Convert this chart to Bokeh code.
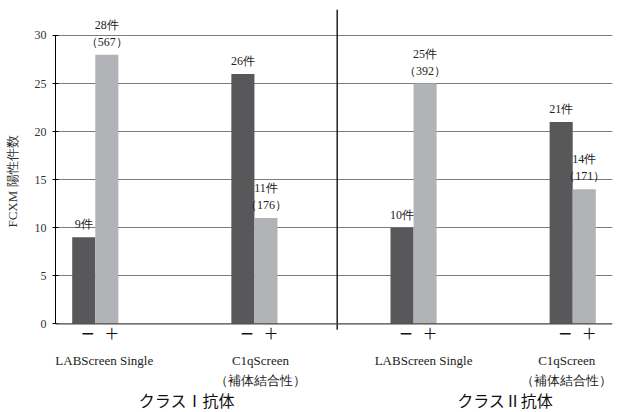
from bokeh.plotting import figure
from bokeh.layouts import column
from bokeh.models import Range1d, FixedTicker, Span
from bokeh.core.properties import value
from bokeh.embed import file_html
from bokeh.resources import INLINE

# ---- data ----
classes = ["クラスⅠ抗体", "クラスⅡ抗体"]
groups = ["LABScreen Single", "C1qScreen\n（補体結合性）",
          "LABScreen Single", "C1qScreen\n（補体結合性）"]
neg_values = [9, 26, 10, 21]
pos_values = [28, 11, 25, 14]
neg_labels = ["9件", "26件", "10件", "21件"]
pos_labels = ["28件\n（567）", "11件\n（176）", "25件\n（392）", "14件\n（171）"]
signs = ["－", "＋"]
y_ticks = [0, 5, 10, 15, 20, 25, 30]
y_title = "FCXM 陽性件数"

# ---- styles / layout ----
DARK = "#58585a"
LIGHT = "#b2b3b7"
SERIF = "Liberation Serif"
GOTHIC = "Noto Sans CJK JP"
W = 0.145
group_label_dx = [9, 6, 10, -6]
WIDTH, H_MAIN, H_LAB = 617, 353, 59
LEFT, RIGHT = 55, 5

gx = list(range(len(groups)))
neg_x = [g - W / 2 for g in gx]
pos_x = [g + W / 2 for g in gx]
class_x = [(gx[2 * i] + gx[2 * i + 1]) / 2 for i in range(len(classes))]
divider_x = (class_x[0] + class_x[1]) / 2 + 0.02
xr = Range1d(-0.25, 3.25)

p = figure(width=WIDTH, height=H_MAIN, output_backend="svg", toolbar_location=None,
           x_range=xr, y_range=Range1d(-3.09, 32.7),
           x_axis_location=None, min_border_left=LEFT, min_border_right=RIGHT,
           min_border_top=9, min_border_bottom=0)
p.outline_line_color = None
p.background_fill_color = "white"
p.border_fill_color = "white"
p.xgrid.visible = False

yaxis = p.yaxis[0]
yaxis.ticker = FixedTicker(ticks=y_ticks, minor_ticks=[])
yaxis.bounds = (y_ticks[0], y_ticks[-1])
yaxis.axis_line_color = "black"
yaxis.major_tick_line_color = "black"
yaxis.major_tick_in = 3
yaxis.major_tick_out = 3
yaxis.minor_tick_line_color = None
yaxis.major_label_text_font = SERIF
yaxis.major_label_text_font_size = "12px"
yaxis.major_label_text_color = "#333333"
yaxis.major_label_standoff = 6
yaxis.axis_label = y_title
yaxis.axis_label_text_font = SERIF
yaxis.axis_label_text_font_size = "13px"
yaxis.axis_label_text_font_style = "normal"
yaxis.axis_label_text_color = "#333333"
yaxis.axis_label_standoff = 12

p.ygrid.ticker = FixedTicker(ticks=y_ticks[1:])
p.ygrid.grid_line_color = "#7c7c7c"
p.ygrid.grid_line_width = 1.2

p.add_layout(Span(location=0, dimension="width", line_color="#444444", line_width=1.3))

p.vbar(x=neg_x, top=neg_values, bottom=0, width=W, fill_color=DARK, line_color=None)
p.vbar(x=pos_x, top=pos_values, bottom=0, width=W, fill_color=LIGHT, line_color=None)

p.segment(x0=[divider_x], x1=[divider_x], y0=[p.y_range.end], y1=[-0.62],
          line_color="black", line_width=1.3)

# value labels
p.text(x=neg_x, y=neg_values, text=neg_labels, text_align="center",
       text_baseline="bottom", y_offset=-6, text_font=value(SERIF),
       text_font_size="12px", text_color="#222222", text_line_height=1.2)
p.text(x=pos_x, y=pos_values, text=pos_labels, text_align="center",
       text_baseline="bottom", y_offset=-6, text_font=value(SERIF),
       text_font_size="12px", text_color="#222222", text_line_height=1.2)

# sign labels under bars
zeros = [0] * len(gx)
p.text(x=neg_x, y=zeros, text=[signs[0]] * len(gx), text_align="center",
       text_baseline="middle", x_offset=4, y_offset=9, text_font=value(GOTHIC),
       text_font_size="15px", text_font_style="bold", text_color="#111111")
p.text(x=pos_x, y=zeros, text=[signs[1]] * len(gx), text_align="center",
       text_baseline="middle", x_offset=5, y_offset=9, text_font=value(GOTHIC),
       text_font_size="15px", text_color="#111111")

# ---- label strip below the chart (shares the x scale) ----
q = figure(width=WIDTH, height=H_LAB, output_backend="svg", toolbar_location=None,
           x_range=xr, y_range=Range1d(0, 1),
           x_axis_location=None, y_axis_location=None,
           min_border_left=LEFT, min_border_right=RIGHT, min_border_top=0, min_border_bottom=0)
q.outline_line_color = None
q.grid.visible = False
q.background_fill_color = "white"
q.border_fill_color = "white"

mid = [0.5] * len(gx)
q.text(x=gx, y=mid, text=groups, text_align="center", text_baseline="top",
       x_offset=group_label_dx, y_offset=-30, text_font=value(SERIF), text_font_size="13px",
       text_color="#222222", text_line_height=1.3)
q.text(x=class_x, y=[0.5] * len(classes), text=classes, text_align="center",
       text_baseline="middle", x_offset=12, y_offset=17, text_font=value(GOTHIC),
       text_font_size="16px", text_color="#111111")

layout = column(p, q, spacing=0)
open("out.html", "w").write(file_html(layout, INLINE))
